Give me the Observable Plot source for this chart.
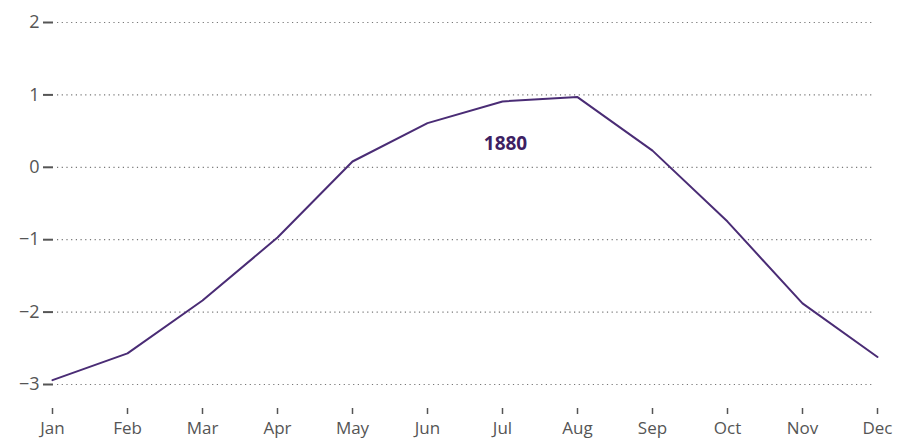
<!DOCTYPE html>
<html>
<head>
<meta charset="utf-8">
<script src="https://cdn.jsdelivr.net/npm/d3@7"></script>
<script src="https://cdn.jsdelivr.net/npm/@observablehq/plot@0.6"></script>
<style>
  html, body { margin: 0; padding: 0; background: #fff; }
  svg { display: block; }
</style>
</head>
<body>
<div id="chart"></div>
<script>
const months = ["Jan","Feb","Mar","Apr","May","Jun","Jul","Aug","Sep","Oct","Nov","Dec"];
const values1880 = [-2.94, -2.57, -1.84, -0.97, 0.08, 0.61, 0.91, 0.97, 0.23, -0.75, -1.88, -2.62];
const yTicks = [-3, -2, -1, 0, 1, 2];
const seriesLabel = "1880";
const labelAt = {month: "Jul", value: 0.33};

const data = months.map((m, i) => ({month: m, value: values1880[i]}));
const fmt = d => (d < 0 ? "\u2212" : "") + Math.abs(d);

const chart = Plot.plot({
  width: 898,
  height: 441,
  marginLeft: 51,
  marginRight: 20,
  marginTop: 22,
  marginBottom: 57,
  style: {fontFamily: "'Open Sans', sans-serif", fontSize: "16px", color: "#555", background: "#fff"},
  x: {type: "point", domain: months, padding: 0},
  y: {domain: [-3, 2]},
  marks: [
    Plot.ruleY(yTicks, {stroke: "#777", strokeDasharray: "1.2,3.5", strokeWidth: 1.2, insetLeft: 6, insetRight: 5}),
    Plot.axisY({ticks: yTicks, tickFormat: fmt, tickSize: 10, tickPadding: 4, dx: 2, stroke: "#555", strokeWidth: 2, fill: "#555", label: null, fontSize: 18}),
    Plot.axisX({tickSize: 6, tickPadding: 7, dy: 24, stroke: "#555", strokeWidth: 1.5, fill: "#555", label: null, fontSize: 17}),
    Plot.line(data, {x: "month", y: "value", stroke: "#4a2c75", strokeWidth: 2}),
    Plot.text([labelAt], {x: "month", y: "value", text: () => seriesLabel, dx: 3, fill: "#3d2062", fontWeight: "bold", fontSize: 19})
  ]
});
document.getElementById("chart").append(chart);
</script>
</body>
</html>
